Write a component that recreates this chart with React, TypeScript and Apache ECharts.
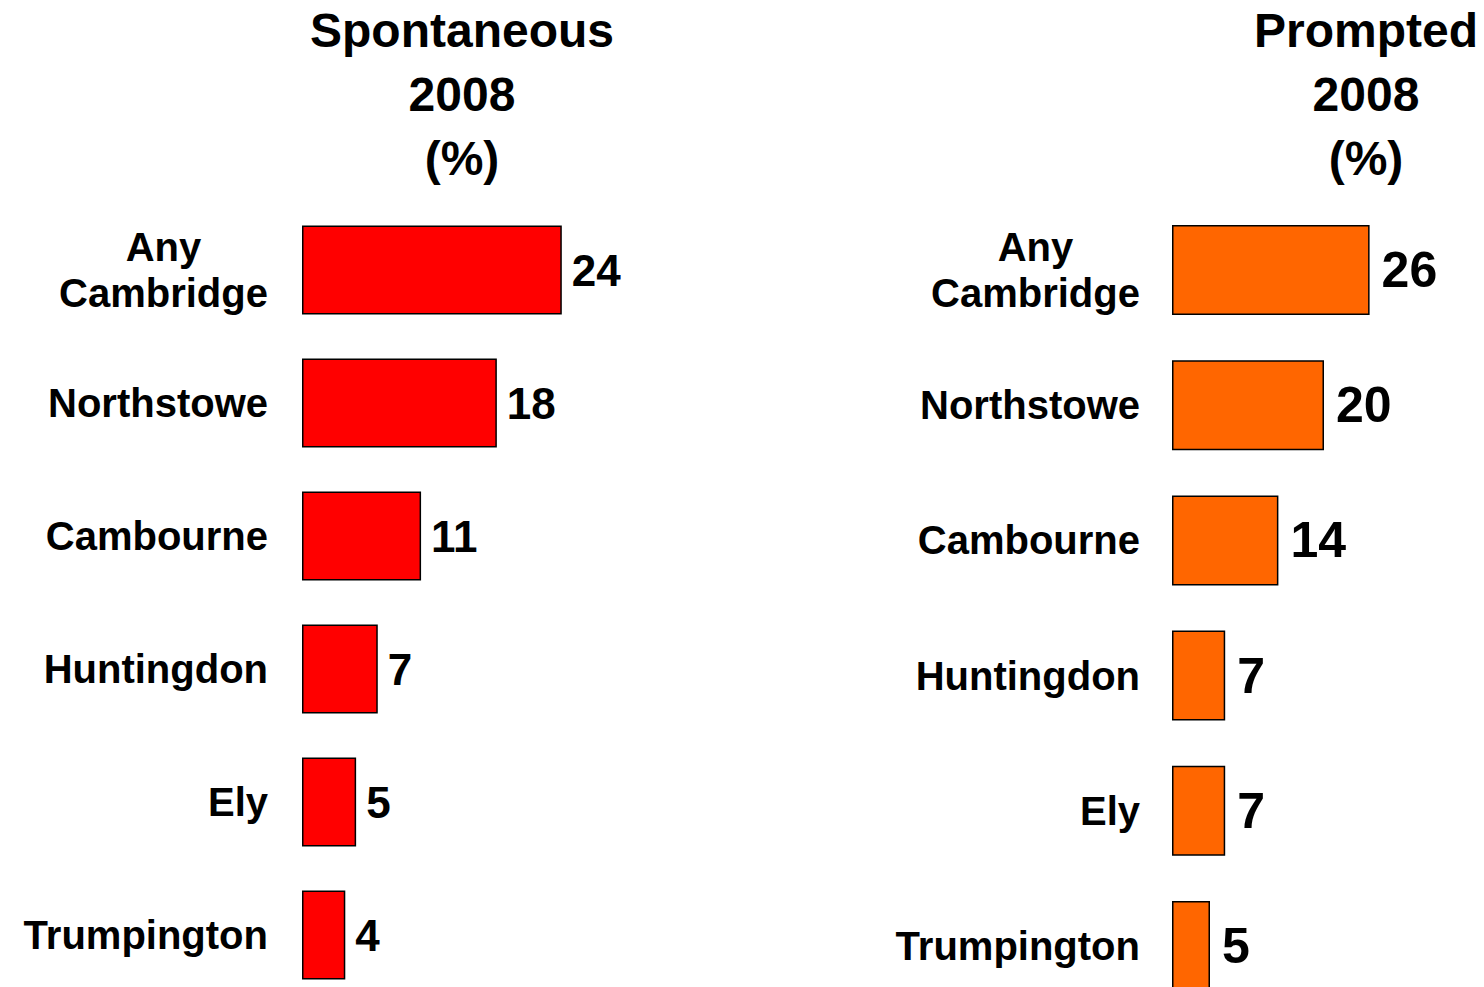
import React, { useEffect, useRef } from "react";
import * as echarts from "echarts";

const categories = ["Any\nCambridge", "Northstowe", "Cambourne", "Huntingdon", "Ely", "Trumpington"];
const spontaneous2008 = [24, 18, 11, 7, 5, 4];
const prompted2008 = [26, 20, 14, 7, 7, 5];
const leftTitle = "Spontaneous\n2008\n(%)";
const rightTitle = "Prompted\n2008\n(%)";

const FONT = '"Liberation Sans", Arial, Helvetica, sans-serif';

function yAxisFor(gridIndex: number) {
  return {
    type: "category",
    gridIndex,
    data: categories,
    inverse: true,
    axisLine: { show: false },
    axisTick: { show: false },
    splitLine: { show: false },
    axisLabel: {
      margin: gridIndex === 0 ? 34 : 32,
      color: "#000",
      fontFamily: FONT,
      fontWeight: "bold",
      fontSize: 40,
      lineHeight: 46,
      formatter: (v: string) =>
        v.includes("\n") ? v.split("\n").map((s) => `{c|${s}}`).join("\n") : v,
      rich: {
        c: {
          width: 209,
          align: "center",
          color: "#000",
          fontFamily: FONT,
          fontWeight: "bold",
          fontSize: 40,
          lineHeight: 46,
        },
      },
    },
  };
}

function xAxisFor(gridIndex: number) {
  return {
    type: "value",
    gridIndex,
    min: 0,
    max: 40,
    show: false,
    splitLine: { show: false },
  };
}

export default function App() {
  const ref = useRef<HTMLDivElement>(null);
  useEffect(() => {
    if (!ref.current) return;
    const chart = echarts.init(ref.current, undefined, { renderer: "svg" });
    chart.setOption({
      animation: false,
      backgroundColor: "#fff",
      title: [
        {
          text: leftTitle,
          left: 462,
          top: -2,
          textAlign: "center",
          padding: 0,
          textStyle: { fontFamily: FONT, fontWeight: "bold", fontSize: 48, lineHeight: 64, color: "#000" },
        },
        {
          text: rightTitle,
          left: 1366,
          top: -2,
          textAlign: "center",
          padding: 0,
          textStyle: { fontFamily: FONT, fontWeight: "bold", fontSize: 48, lineHeight: 64, color: "#000" },
        },
      ],
      grid: [
        { left: 302, top: 203.5, width: 433, height: 798 },
        { left: 1172, top: 202.5, width: 304, height: 811 },
      ],
      xAxis: [xAxisFor(0), xAxisFor(1)],
      yAxis: [yAxisFor(0), yAxisFor(1)],
      series: [
        {
          type: "bar",
          xAxisIndex: 0,
          yAxisIndex: 0,
          data: spontaneous2008,
          barWidth: 89,
          itemStyle: { color: "#FF0000", borderColor: "#000", borderWidth: 1.5 },
          label: {
            show: true,
            position: "right",
            distance: 10,
            color: "#000",
            fontFamily: FONT,
            fontWeight: "bold",
            fontSize: 44,
          },
        },
        {
          type: "bar",
          xAxisIndex: 1,
          yAxisIndex: 1,
          data: prompted2008,
          barWidth: 90,
          itemStyle: { color: "#FF6600", borderColor: "#000", borderWidth: 1.5 },
          label: {
            show: true,
            position: "right",
            distance: 12,
            color: "#000",
            fontFamily: FONT,
            fontWeight: "bold",
            fontSize: 50,
          },
        },
      ],
    });
    return () => chart.dispose();
  }, []);
  return (
    <div
      ref={ref}
      style={{ position: "fixed", left: 0, top: 0, width: 1484, height: 1040 }}
    />
  );
}
